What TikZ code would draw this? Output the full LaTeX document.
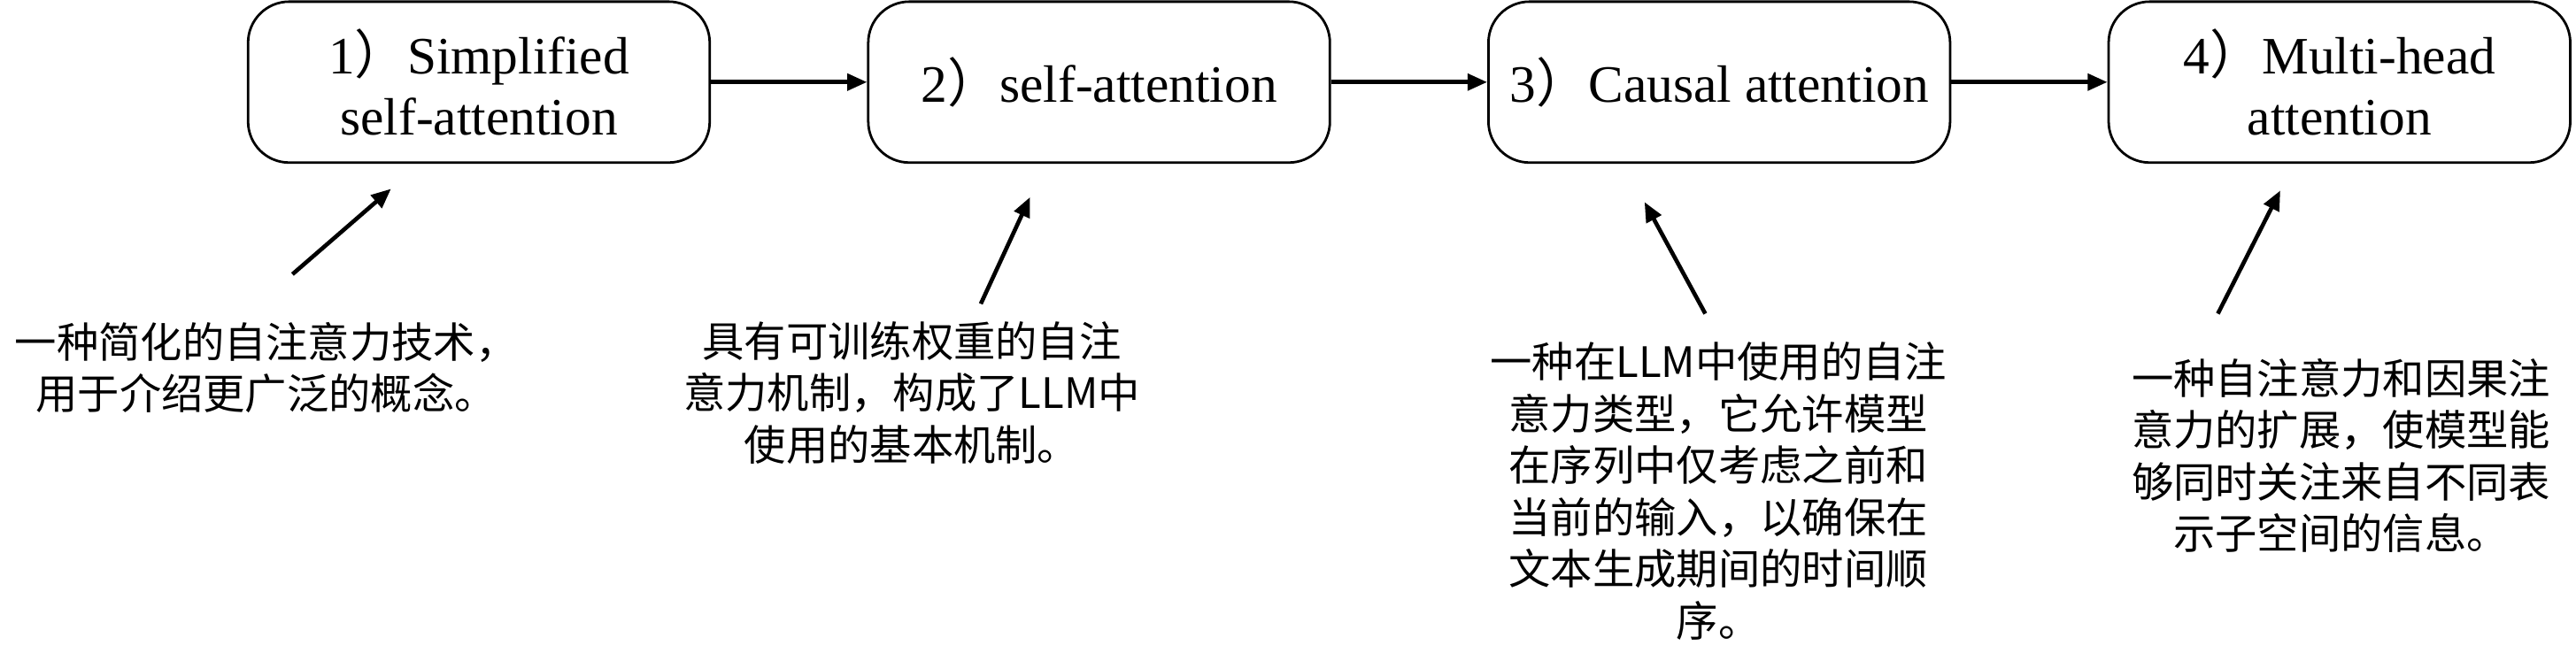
\documentclass[tikz,border=0pt]{standalone}
\usepackage{fontspec}
\setmainfont{Liberation Serif}
\newfontfamily\cjk{Noto Sans CJK SC}
\usetikzlibrary{arrows.meta}
\tikzset{
  stage/.style={draw=black, line width=0.75pt, rounded corners=12.5pt, minimum width=140.5pt, minimum height=49pt, align=center, inner sep=0pt, font=\fontsize{16}{18.5}\selectfont},
  note/.style={align=center, inner sep=0pt, font=\cjk\fontsize{12.75}{15.75}\selectfont},
  flow/.style={-{Triangle[length=6pt,width=5pt]}, line width=1.25pt},
  pointer/.style={-{Triangle[length=6pt,width=5pt]}, line width=1.25pt}
}
\begin{document}
\begin{tikzpicture}[x=0.5pt, y=-0.5pt]
\useasboundingbox (0,0) rectangle (1568,402);
\node[stage] (b1) at (291.5,50) {1{\cjk ）}Simplified\\self-attention};
\node[stage] (b2) at (669,50) {2{\cjk ）}self-attention};
\node[stage] (b3) at (1046.5,50) {3{\cjk ）}Causal attention};
\node[stage] (b4) at (1424,50) {4{\cjk ）}Multi-head\\attention};
\draw[flow] (b1.east) -- (b2.west);
\draw[flow] (b2.east) -- (b3.west);
\draw[flow] (b3.east) -- (b4.west);
\node[note] (t1) at (162,224) {一种简化的自注意力技术，\\用于介绍更广泛的概念。};
\node[note] (t2) at (555,239) {具有可训练权重的自注\\意力机制，构成了LLM中\\使用的基本机制。};
\node[note] (t3) at (1046,299) {一种在LLM中使用的自注\\意力类型，它允许模型\\在序列中仅考虑之前和\\当前的输入，以确保在\\文本生成期间的时间顺\\序。};
\node[note] (t4) at (1425,277.5) {一种自注意力和因果注\\意力的扩展，使模型能\\够同时关注来自不同表\\示子空间的信息。};
\coordinate (p1s) at (178,167); \coordinate (p1e) at (238,115);
\coordinate (p2s) at (597,185); \coordinate (p2e) at (627,120);
\coordinate (p3s) at (1038,191); \coordinate (p3e) at (1001,123);
\coordinate (p4s) at (1350,191); \coordinate (p4e) at (1388,116);
\draw[pointer] (p1s) -- (p1e);
\draw[pointer] (p2s) -- (p2e);
\draw[pointer] (p3s) -- (p3e);
\draw[pointer] (p4s) -- (p4e);
\end{tikzpicture}
\end{document}
